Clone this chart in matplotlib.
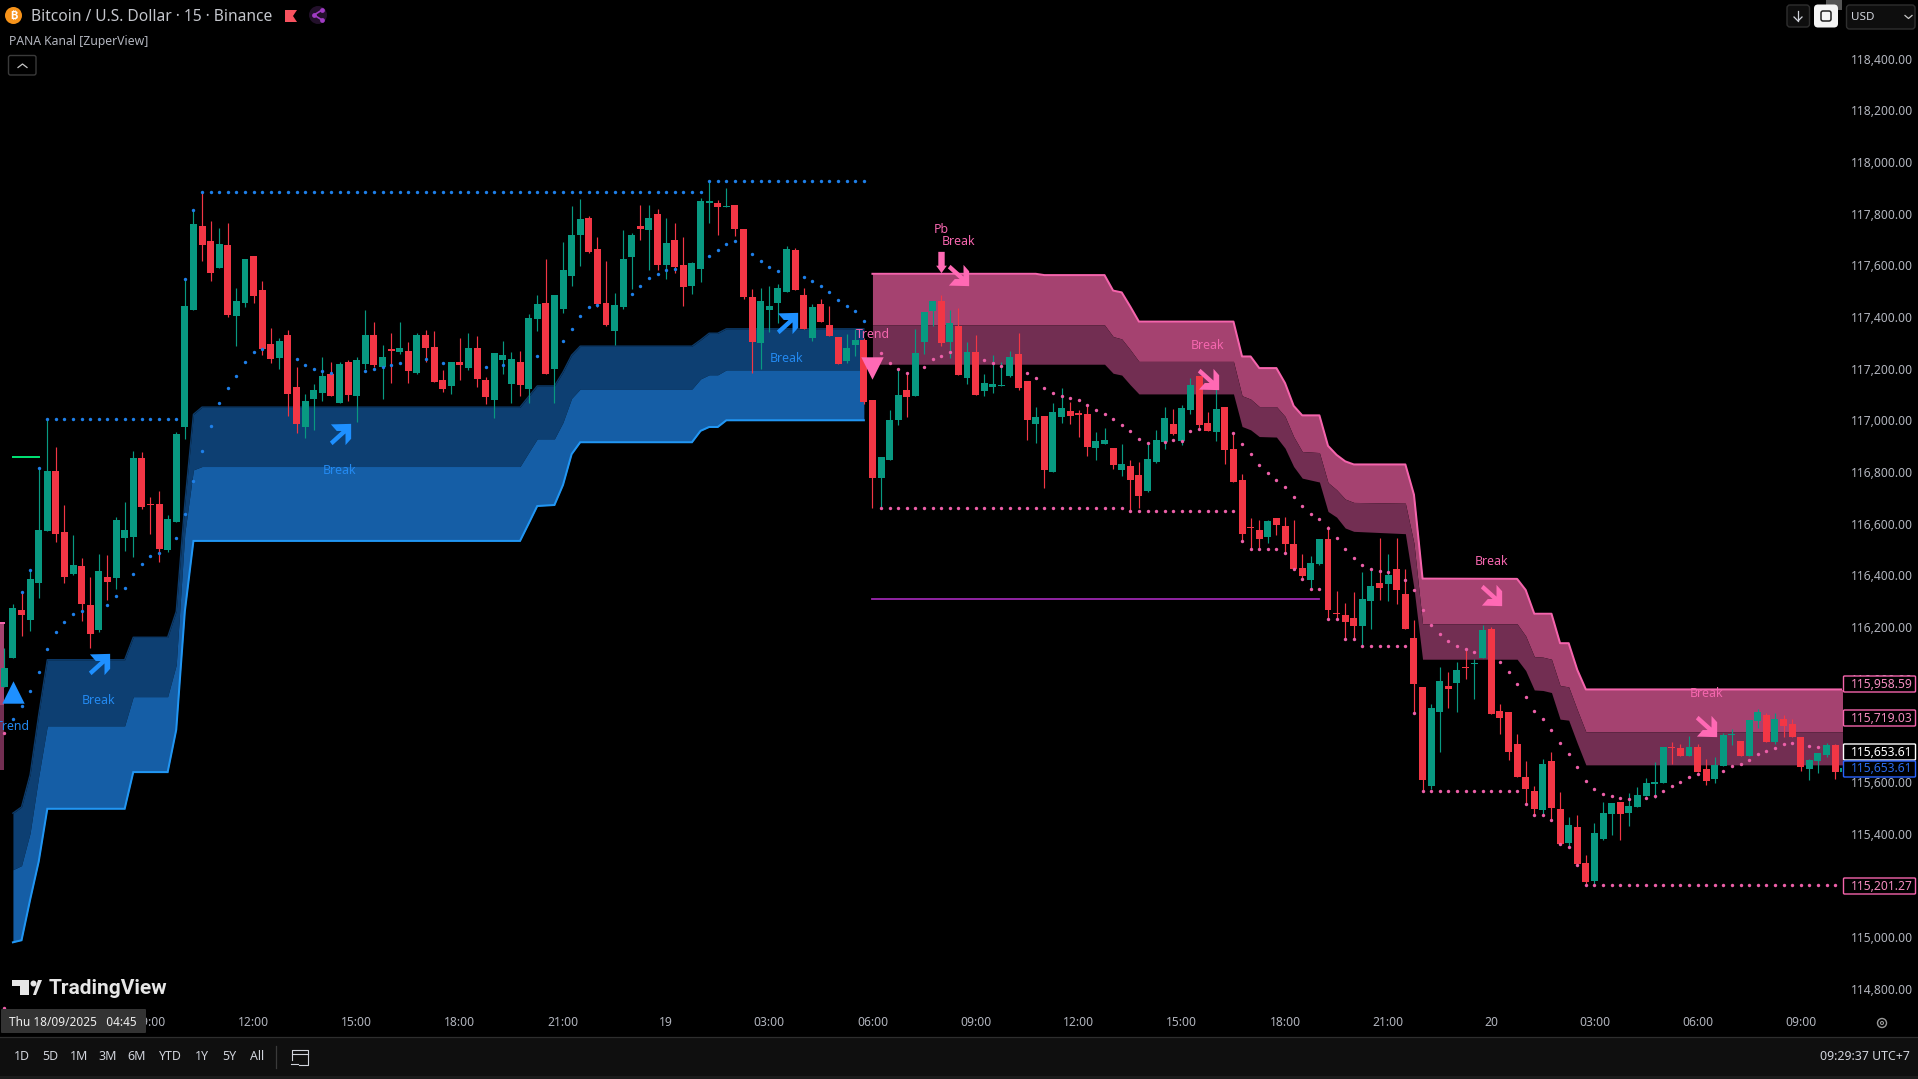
#!/usr/bin/env python3
"""
plot.py

BTC/USD 15 minute chart with the PANA Kanal bands, trail dots and signals.
"""

import numpy as np
import matplotlib
matplotlib.use('Agg')
import matplotlib.pyplot as plt
from matplotlib.path import Path
from matplotlib.patches import Rectangle, FancyBboxPatch, Circle, Polygon

# candles, one entry per 15 minute bar
opens = [
    115966,116078,116266,116227,116371,116572,116804,116568,116405,116436,
    116285,116189,116394,116390,116545,116549,116854,116676,116676,116498,
    116607,116974,117427,117752,117694,117590,117679,117404,117454,117636,
    117505,117296,117241,117330,117129,116974,117083,117106,117180,117067,
    117226,117094,117218,117330,117207,117276,117265,117269,117183,117330,
    117284,117156,117133,117226,117203,117280,117156,117079,117234,117141,
    117226,117121,117392,117454,117199,117431,117559,117717,117783,117663,
    117454,117346,117439,117632,117752,117737,117799,117601,117698,117601,
    117520,117586,117841,117841,117826,117834,117741,117478,117299,117427,
    117454,117497,117659,117485,117319,117450,117369,117323,117230,117292,
    117311,117079,116777,116847,117001,117118,117094,117303,117423,117462,
    117303,117365,117164,117265,117114,117130,117133,117172,117257,117153,
    116986,117017,116801,117013,117037,117029,117025,116893,116909,116893,
    116808,116824,116789,116727,116839,116917,116986,116921,117041,117172,
    116990,116955,117052,116890,116770,116588,116576,116549,116623,116592,
    116522,116429,116383,116445,116541,116255,116247,116236,116205,116301,
    116371,116367,116425,116328,116158,115968,115585,115871,115972,115984,
    116046,116057,116080,116193,115875,115871,115748,115620,115566,115492,
    115682,115496,115364,115426,115287,115217,115380,115477,115523,115481,
    115504,115546,115592,115597,115736,115732,115701,115736,115651,115612,
    115662,115782,115759,115701,115837,115860,115755,115844,115825,115775,
    115651,115682,115705,115744,115640]
highs = [
    116118,116289,116337,116421,116814,117008,116897,116672,116556,116467,
    116394,116483,116479,116626,116684,116881,116878,116703,116727,116634,
    116955,117546,117813,117884,117772,117745,117764,117512,117625,117636,
    117539,117358,117319,117350,117207,117102,117141,117245,117226,117226,
    117234,117245,117427,117381,117292,117338,117381,117303,117338,117350,
    117346,117195,117226,117319,117338,117327,117168,117261,117307,117265,
    117269,117412,117485,117625,117485,117690,117830,117857,117791,117710,
    117617,117493,117737,117725,117834,117834,117818,117783,117764,117710,
    117613,117861,117925,117853,117899,117834,117741,117508,117512,117520,
    117528,117675,117667,117512,117450,117470,117443,117323,117334,117354,
    117319,117079,116858,117040,117199,117187,117354,117419,117462,117485,
    117427,117435,117304,117331,117180,117253,117226,117269,117338,117153,
    117052,117017,117068,117126,117071,117041,117060,116955,116971,116893,
    116909,116847,116839,116917,116963,117052,117044,117060,117164,117172,
    117033,117126,117052,116955,116793,116623,116615,116615,116623,116626,
    116615,116483,116475,116541,116592,116340,116294,116336,116414,116421,
    116545,116483,116545,116425,116227,115968,115902,116046,116026,116065,
    116115,116076,116208,116200,115902,115871,115786,115682,115585,115689,
    115717,115562,115465,115473,115318,115442,115523,115519,115523,115558,
    115581,115616,115678,115736,115755,115748,115778,115748,115689,115697,
    115790,115806,115759,115840,115883,115867,115867,115860,115844,115775,
    115689,115713,115751,115748,115653.61]
lows = [
    115966,116078,116166,116185,116313,116572,116529,116371,116402,116224,
    116119,116181,116305,116347,116494,116471,116657,116560,116452,116491,
    116607,116928,117427,117617,117539,117590,117400,117288,117439,117454,
    117253,117222,117199,117017,116951,116932,116963,117075,117094,117067,
    117075,116994,117199,117207,117083,117145,117257,117145,117180,117226,
    117149,117110,117102,117156,117195,117129,117063,117009,117180,117067,
    117094,117067,117346,117180,117067,117416,117520,117597,117648,117439,
    117365,117292,117431,117508,117698,117582,117582,117547,117570,117443,
    117489,117536,117764,117717,117826,117714,117470,117183,117199,117342,
    117377,117497,117505,117354,117307,117381,117327,117218,117222,117249,
    117063,116661,116660,116847,116982,117013,117094,117257,117365,117288,
    117241,117176,117141,117099,117095,117106,117133,117168,117118,116924,
    116913,116739,116801,116990,116986,116936,116862,116847,116909,116812,
    116785,116646,116661,116723,116835,116890,116944,116905,117025,116963,
    116959,116921,116832,116762,116534,116499,116499,116526,116557,116487,
    116421,116383,116344,116441,116228,116228,116154,116154,116127,116193,
    116305,116301,116290,116193,115867,115563,115573,115717,115887,115871,
    115999,115922,116080,115864,115786,115686,115620,115515,115473,115473,
    115453,115361,115349,115279,115201,115201,115376,115395,115376,115430,
    115504,115546,115539,115597,115670,115701,115701,115639,115589,115597,
    115662,115744,115701,115701,115809,115755,115748,115775,115775,115643,
    115608,115635,115697,115612,115640]
closes = [
    116042,116274,116247,116386,116576,116804,116560,116394,116440,116289,
    116173,116417,116374,116614,116576,116854,116665,116672,116502,116618,
    116947,117443,117760,117679,117570,117683,117408,117462,117625,117481,
    117276,117238,117307,117102,116986,117075,117118,117172,117094,117218,
    117098,117234,117330,117214,117245,117269,117280,117191,117330,117280,
    117149,117121,117226,117214,117280,117160,117091,117261,117253,117238,
    117137,117396,117450,117180,117485,117582,117717,117779,117652,117450,
    117369,117447,117625,117717,117741,117783,117601,117686,117594,117516,
    117609,117849,117849,117826,117830,117741,117478,117303,117462,117443,
    117512,117663,117505,117354,117439,117381,117327,117218,117280,117311,
    117071,116777,116858,117001,117098,117091,117261,117419,117462,117299,
    117377,117176,117265,117099,117145,117141,117137,117246,117126,117002,
    117013,116808,117033,117048,117017,117021,116897,116921,116924,116828,
    116832,116770,116708,116851,116924,117010,116948,117048,117137,116982,
    116959,117044,116886,116762,116561,116584,116541,116611,116595,116522,
    116425,116398,116448,116541,116266,116251,116220,116205,116309,116359,
    116352,116402,116344,116193,115980,115608,115887,115991,115960,116034,
    116042,116061,116189,115864,115848,115717,115620,115573,115496,115670,
    115500,115361,115434,115283,115213,115403,115481,115519,115477,115508,
    115550,115597,115600,115736,115732,115701,115736,115639,115604,115666,
    115782,115786,115701,115840,115871,115755,115844,115817,115775,115659,
    115686,115713,115744,115639,115653.61]

# blue channel
blue_bars = [1,2,3,4,5,14,15,19,20,21,22,23,60,61,62,64,65,66,67,80,81,82,83,84,100]
blue_top = [115479,115503,115628,115860,116073,116073,116160,116160,116260,116679,117023,117051,
            117051,117092,117133,117133,117187,117252,117287,117287,117311,117337,117337,117354,117354]
blue_mid = [115260,115276,115402,115621,115817,115817,115930,115930,116053,116563,116808,116821,
            116821,116875,116928,116928,116992,117085,117121,117121,117160,117176,117176,117195,117195]
blue_low = [114979,114987,115144,115292,115496,115496,115638,115638,115802,116260,116533,116533,
            116533,116600,116668,116672,116750,116869,116915,116915,116959,116974,116974,117000,117000]

# pink channel
pink_bars = [101,120,121,128,129,130,131,132,143,144,145,146,148,149,150,151,153,154,155,156,157,
             163,164,165,176,177,178,179,180,181,182,183,184,214]
pink_top = [117567,117567,117562,117562,117502,117495,117440,117382,117382,117247,117247,117202,
            117202,117144,117056,117019,117019,116901,116866,116841,116829,116829,116712,116387,
            116386,116343,116251,116251,116251,116137,116137,116034,115958,115958]
pink_mid = [117369,117369,117369,117369,117324,117315,117273,117228,117228,117095,117082,117053,
            117053,117015,116937,116879,116875,116759,116731,116695,116682,116679,116524,116212,
            116212,116165,116085,116083,116075,115973,115968,115879,115794,115794]
pink_low = [117217,117217,117217,117217,117182,117175,117137,117102,117102,116976,116963,116937,
            116935,116892,116821,116776,116761,116647,116625,116583,116570,116561,116350,116075,
            116075,116031,115956,115954,115946,115843,115839,115750,115666,115666]

# end of the older pink channel at the left edge
old_bars = [-1, 0]
old_top = [116217, 116217]
old_mid = [115899, 115899]
old_low = [115647, 115647]

# trail dots
blue_trail_bars = [1,2,3,4,5,6,7,8,9,12,13,14,15,16,17,18,20,21,22,23,24,25,26,27,28,29,30,34,35,36,37,38,
                   42,43,44,45,46,49,51,56,58,62,65,66,67,68,69,73,74,75,76,77,78,82,83,84,85,87,88,89,90,
                   93,94,95,96,97,98,99,100]
blue_trail = [115843,115893,115951,116025,116114,116180,116218,116249,116261,116284,116319,116350,116404,
              116443,116474,116485,116543,116636,116764,116880,116977,117066,117124,117170,117225,117263,
              117275,117236,117213,117198,117190,117183,117190,117198,117205,117213,117221,117236,117221,
              117205,117213,117248,117306,117352,117403,117438,117447,117488,117519,117550,117565,117582,
              117585,117635,117658,117681,117693,117643,117616,117592,117577,117554,117538,117519,117496,
              117465,117441,117422,117383]
blue_high_bars = list(range(2, 101))
blue_high = [116337,116421,116814] + [117004]*16 + [117546,117813] + [117884]*59 + [117925]*19

pink_trail_bars = [0,102,103,104,105,107,108,109,110,114,115,116,119,120,121,122,123,124,125,126,127,128,129,
                   130,131,132,133,135,136,137,138,139,143,144,145,146,147,148,149,150,151,152,153,154,155,
                   156,157,158,159,160,161,163,164,165,166,167,168,169,170,171,174,175,176,177,178,179,180,
                   181,182,183,184,185,186,187,188,189,191,192,193,194,195,196,197,200,201,202,203,204,205,
                   206,207,208,210,211]
pink_trail = [115789,117259,117221,117198,117182,117205,117236,117248,117263,117233,117221,117209,117182,
              117163,117124,117104,117093,117086,117078,117059,117039,117024,117004,116981,116957,116927,
              116911,116917,116923,116921,116958,116966,116950,116908,116869,116826,116795,116768,116740,
              116703,116668,116637,116617,116583,116544,116501,116466,116439,116424,116416,116412,116381,
              116343,116265,116207,116172,116145,116125,116114,116102,116064,116025,115978,115928,115874,
              115843,115800,115750,115708,115657,115603,115572,115553,115545,115537,115533,115537,115545,
              115564,115584,115599,115619,115631,115642,115661,115669,115684,115708,115719,115731,115746,
              115750,115739,115735]
pink_floor_bars = [0] + list(range(102, 214))
pink_floor = ([114726] + [116660]*29 + [116647]*13 + [116534] + [116501]*4 + [116487,116425,116386]
              + [116345]*2 + [116230]*2 + [116153]*2 + [116126]*6 + [115867] + [115563]*12
              + [115515,115473,115473,115453,115361,115349,115279] + [115201]*30)

# signal labels: text, bar, price
blue_labels = [('Break', 11, 115917), ('Break', 39, 116807), ('Break', 91, 117238), ('Trend', 1, 115816)]
pink_labels = [('Pb', 109, 117740), ('Break', 111, 117692), ('Trend', 101, 117332), ('Break', 140, 117288),
               ('Break', 173, 116455), ('Break', 198, 115944)]
blue_arrow_bars = [11, 39, 91]
blue_arrow_prices = [116057, 116947, 117378]
pink_arrow_bars = [111, 140, 173, 198]
pink_arrow_prices = [117563, 117159, 116323, 115815]

# short levels
purple_bars = [101, 153]
purple_level = [116310, 116310]
green_bars = [1, 4]
green_level = [116856, 116856]

# axes
price_ticks = list(range(114800, 118600, 200))
hidden_price_ticks = [115800]  # covered by the price labels in the chart
time_ticks = [17, 29, 41, 53, 65, 77, 89, 101, 113, 125, 137, 149, 161, 173, 185, 197, 209]
time_labels = ['09:00', '12:00', '15:00', '18:00', '21:00', '19', '03:00', '06:00', '09:00',
               '12:00', '15:00', '18:00', '21:00', '20', '03:00', '06:00', '09:00']
ranges = ['1D', '5D', '1M', '3M', '6M', 'YTD', '1Y', '5Y', 'All']

RED = '#f23645'
GREEN = '#089981'
BLUE = '#2196f3'
PINK = '#ff69b4'
DOT_BLUE = '#1e7fe8'
DOT_PINK = '#ec5fa8'
FONT = 'Noto Sans'

plt.rcParams['font.family'] = [FONT, 'DejaVu Sans']

W, H = 1918, 1079
fig = plt.figure(figsize=(W / 100, H / 100), dpi=100, facecolor='black')

# main chart: 8.595 px per bar, 0.25833 px per dollar
CHART_R, CHART_B = 1842, 1010
ax = fig.add_axes([0, 1 - CHART_B / H, CHART_R / W, CHART_B / H], facecolor='black', zorder=1)
ax.set_xlim(-0.504, 213.8)
ax.set_ylim(114717, 118627)
for s in ax.spines.values():
    s.set_visible(False)

ax.yaxis.tick_right()
ax.set_yticks(price_ticks)
ax.set_yticklabels(['' if p in hidden_price_ticks else f'{p:,.2f}' for p in price_ticks])
ax.set_xticks(time_ticks)
ax.set_xticklabels(time_labels)
ax.tick_params(axis='y', length=0, pad=6.5, labelsize=8.7, labelcolor='#b2b5be')
ax.tick_params(axis='x', length=0, pad=4.4, labelsize=8.7, labelcolor='#b2b5be')

# channels
ax.fill_between(blue_bars, blue_mid, blue_top, color='#0d3f72', lw=0, zorder=1)
ax.fill_between(blue_bars, blue_low, blue_mid, color='#155ea6', lw=0, zorder=1)
ax.plot(blue_bars, blue_top, color='#0c3a69', lw=1, zorder=1.5)
ax.plot(blue_bars, blue_low, color=BLUE, lw=1.45, zorder=1.5, solid_joinstyle='miter')
ax.fill_between(pink_bars, pink_mid, pink_top, color='#a54270', lw=0, zorder=1)
ax.fill_between(pink_bars, pink_low, pink_mid, color='#722e52', lw=0, zorder=1)
ax.plot(pink_bars, pink_top, color='#f564ac', lw=1.45, zorder=1.5)
ax.fill_between(old_bars, old_mid, old_top, color='#a54270', lw=0, zorder=1)
ax.fill_between(old_bars, old_low, old_mid, color='#722e52', lw=0, zorder=1)
ax.plot(old_bars, old_top, color='#f564ac', lw=1.45, zorder=1.5)

ax.plot(purple_bars, purple_level, color='#9c27b0', lw=1.3, zorder=1.5)
ax.plot(green_bars, green_level, color='#00e676', lw=1.4, zorder=1.5)

# candles
bars = np.arange(len(opens))
o = np.array(opens, dtype=float)
c = np.array(closes, dtype=float)
colors = [GREEN if up else RED for up in c >= o]
ax.vlines(bars, lows, highs, colors=colors, lw=0.85, zorder=2)
ax.bar(bars, np.maximum(np.abs(c - o), 4), bottom=np.minimum(o, c), width=0.81, color=colors, lw=0, zorder=2.1)

# dots
ax.scatter(blue_trail_bars, blue_trail, s=6, color=DOT_BLUE, lw=0, zorder=3)
ax.scatter(blue_high_bars, blue_high, s=6, color=DOT_BLUE, lw=0, zorder=3)
ax.scatter(pink_trail_bars, pink_trail, s=6, color=DOT_PINK, lw=0, zorder=3)
ax.scatter(pink_floor_bars, pink_floor, s=6, color=DOT_PINK, lw=0, zorder=3)

# signals
up_arrow = Path([(-0.9, 0.95), (1, 1), (1, -0.4), (0.47, -1), (0.47, 0.1), (-0.75, -1), (-1, -0.67),
                 (0.1, 0.33), (-0.35, 0.33), (-0.9, 0.95)], closed=True)
down_arrow = Path([(x, -y) for x, y in up_arrow.vertices], closed=True)
fat_down = Path([(-0.3, 1), (0.3, 1), (0.3, -0.3), (0.5, -0.3), (0, -1), (-0.5, -0.3), (-0.3, -0.3), (-0.3, 1)],
                closed=True)
ax.scatter(blue_arrow_bars, blue_arrow_prices, s=235, marker=up_arrow, color='#1e90ff', lw=0, zorder=4)
ax.scatter(pink_arrow_bars, pink_arrow_prices, s=235, marker=down_arrow, color=PINK, lw=0, zorder=4)
ax.scatter([109], [117613], s=235, marker=fat_down, color=PINK, lw=0, zorder=4)
ax.scatter([1], [115948], s=260, marker='^', color='#1e90ff', lw=0, zorder=4)
ax.scatter([101], [117202], s=260, marker='v', color=PINK, lw=0, zorder=4)

for txt, b, p in blue_labels:
    ax.text(b, p, txt, color='#2389f0', fontsize=8.9, ha='center', va='center', zorder=5)
for txt, b, p in pink_labels:
    ax.text(b, p, txt, color='#f566ae', fontsize=8.9, ha='center', va='center', zorder=5)

# everything around the chart, in screen pixels
ui = fig.add_axes([0, 0, 1, 1], zorder=5)
ui.set_xlim(0, W)
ui.set_ylim(H, 0)
ui.axis('off')
ui.patch.set_alpha(0)


def box(x0, y0, x1, y1, edge='none', face='none', lw=1.0, r=0, z=2):
    if r:
        p = FancyBboxPatch((x0 + r, y0 + r), x1 - x0 - 2 * r, y1 - y0 - 2 * r,
                           boxstyle=f'round,pad={r}', ec=edge, fc=face, lw=lw, zorder=z)
    else:
        p = Rectangle((x0, y0), x1 - x0, y1 - y0, ec=edge, fc=face, lw=lw, zorder=z)
    ui.add_patch(p)


# header
ui.add_patch(Circle((13.5, 15.5), 8.5, fc='#f7931a', ec='none'))
ui.text(13.5, 15.5, '\u20bf', color='white', fontsize=8, ha='center', va='center',
        family=['Inter', 'Roboto', 'Lato', 'Noto Sans CJK SC', 'Liberation Sans', 'DejaVu Sans'], weight='bold')
ui.text(31, 17, 'Bitcoin / U.S. Dollar \u00b7 15 \u00b7 Binance', color='#c4c6cc', fontsize=11.2, va='center')
ui.text(9, 41.5, 'PANA Kanal [ZuperView]', color='#b2b5be', fontsize=8.8, va='center')
box(8.5, 55.5, 36, 75, edge='#3a3a3a', r=2)
ui.plot([18, 22.5, 27], [67.5, 64, 67.5], color='#c8c8c8', lw=0.9)
ui.add_patch(Polygon([(285, 10), (297, 10), (293, 16), (297, 22), (285, 22)], fc='#f7525f', ec='none'))
ui.add_patch(Circle((318, 15), 9, fc='#23102b', ec='none'))
ui.plot([322, 314, 322], [10, 15, 20], color='#a13bc4', lw=1.2)
ui.scatter([322, 314, 322], [10, 15, 20], s=12, color='#a13bc4', lw=0)

# top right buttons
box(1787, 5, 1809.5, 27, edge='#2e2e2e', face='#0e0e0e', r=3)
ui.plot([1798, 1798], [11, 21], color='#d1d4dc', lw=0.9)
ui.plot([1794, 1798, 1802], [17, 21, 17], color='#d1d4dc', lw=0.9)
box(1826, 0, 1842, 10, face='#555555')
box(1814, 4.5, 1838, 27.5, face='#f5f5f5', r=4)
box(1821, 11, 1831, 21, edge='#222222', lw=1.1, r=2, z=3)
box(1846.5, 5, 1915, 29, edge='#2e2e2e', face='#0e0e0e', r=3)
ui.text(1851, 17, 'USD', color='#d1d4dc', fontsize=8.4, va='center')
ui.plot([1905, 1908.5, 1912], [15.5, 18.5, 15.5], color='#c8c8c8', lw=0.9)

# price labels
price_boxes = [('115,958.59', 684, '#f564ac', '#f58cc0', 'normal'), ('115,719.03', 718, '#f564ac', '#f58cc0', 'normal'),
               ('115,653.61', 752, 'white', 'white', 'bold'), ('115,653.61', 769, '#2962ff', '#2b6cf0', 'normal'),
               ('115,201.27', 886, '#f564ac', '#f58cc0', 'normal')]
for txt, y, edge, col, wt in price_boxes:
    box(1843.5, y - 8, 1915.5, y + 8, edge=edge, face='black', lw=1, r=1)
    ui.text(1851, y, txt, color=col, fontsize=8.7, va='center', weight=wt, zorder=3)

# logo
ui.add_patch(Polygon([(12, 980), (29, 980), (29, 995), (20, 995), (20, 986), (12, 986)], fc='#e6e6e6', ec='none'))
ui.add_patch(Circle((33.5, 983.5), 3, fc='#e6e6e6', ec='none'))
ui.add_patch(Polygon([(33, 995), (38, 980), (42, 980), (36, 995)], fc='#e6e6e6', ec='none'))
ui.text(49, 988, 'TradingView', color='#e6e6e6', fontsize=15, weight='bold', va='center', family='Roboto')

# crosshair time
box(1, 1009, 146, 1033, face='#333333', r=1)
ui.text(9, 1023, 'Thu 18/09/2025   04:45', color='#eeeeee', fontsize=8.5, va='center', weight='medium', zorder=3)

# gear
ui.add_patch(Circle((1882, 1023), 4.5, fc='none', ec='#9a9a9a', lw=1))
ui.add_patch(Circle((1882, 1023), 1.5, fc='none', ec='#9a9a9a', lw=0.8))

# bottom toolbar
box(0, 1037, W, 1076, face='#0f0f0f')
ui.plot([0, W], [1037, 1037], color='#2e2e2e', lw=0.9, zorder=3)
box(0, 1076, W, H, face='#1b1b1b')
range_xs = [22, 50, 79, 108, 137, 170, 202, 229, 257]
for txt, x in zip(ranges, range_xs):
    ui.text(x, 1057, txt, color='#d1d4dc', fontsize=8.9, ha='center', va='center', zorder=3)
ui.plot([276, 276], [1046, 1068], color='#3a3a3a', lw=0.9, zorder=3)
ui.plot([292, 292, 308, 308, 299], [1060, 1050, 1050, 1065, 1065], color='#d1d4dc', lw=0.8, zorder=3)
ui.plot([292, 308], [1054, 1054], color='#d1d4dc', lw=0.8, zorder=3)
ui.plot([291, 298], [1064, 1064], color='#d1d4dc', lw=0.8, zorder=3)
ui.text(1910, 1057, '09:29:37 UTC+7', color='#d1d4dc', fontsize=8.9, ha='right', va='center', zorder=3)

fig.savefig('out.png', dpi=100, facecolor='black')
